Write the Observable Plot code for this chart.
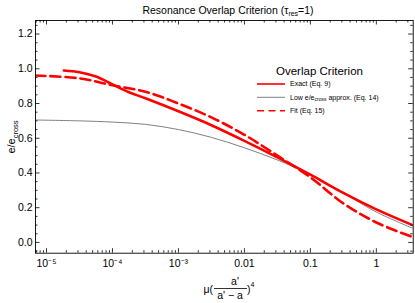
<!DOCTYPE html>
<html><head><meta charset="utf-8">
<script src="https://cdn.jsdelivr.net/npm/d3@7"></script>
<script src="https://cdn.jsdelivr.net/npm/@observablehq/plot@0.6"></script>
<style>
body{margin:0;background:#fff;}
#chart{position:relative;width:415px;height:303px;}
</style></head><body><div id="chart"></div>
<script>
// ---- data ----
const exactX = [1.83e-5, 3.16e-5, 5.62e-5, 1e-4, 1.78e-4, 3.16e-4, 1e-3, 3.16e-3, 0.01, 0.0316, 0.1, 0.316, 1.0, 3.63];
const exactY = [0.99, 0.98, 0.955, 0.91, 0.865, 0.83, 0.755, 0.675, 0.585, 0.49, 0.39, 0.285, 0.19, 0.098];

const lowX = [6.8e-6, 3.16e-5, 1e-4, 3.16e-4, 1e-3, 3.16e-3, 0.01, 0.0316, 0.1, 0.316, 1.0, 3.63];
const lowY = [0.705, 0.70, 0.693, 0.68, 0.65, 0.605, 0.545, 0.475, 0.39, 0.285, 0.175, 0.08];

const fitX = [6.8e-6, 3.16e-5, 1e-4, 3.16e-4, 1e-3, 3.16e-3, 0.01, 0.0316, 0.1, 0.316, 1.0, 3.63];
const fitY = [0.961, 0.945, 0.905, 0.868, 0.80, 0.72, 0.62, 0.50, 0.375, 0.225, 0.115, 0.03];

const xTickValues = [1e-5, 1e-4, 1e-3, 1e-2, 1e-1, 1];
const xTickLabels = ["10\u207B\u2075", "10\u207B\u2074", "10\u207B\u00B3", "0.01", "0.1", "1"];
const yTickValues = [0, 0.2, 0.4, 0.6, 0.8, 1.0, 1.2];
const yTickLabels = ["0.0", "0.2", "0.4", "0.6", "0.8", "1.0", "1.2"];

const seriesNames = ["Exact (Eq. 9)", "Low e/e_cross approx. (Eq. 14)", "Fit (Eq. 15)"];

// ---- layout ----
const W = 415, H = 303, mL = 35, mR = 2.3, mT = 20, mB = 50.3;
const innerW = W - mL - mR, innerH = H - mT - mB;
const xDomain = [6.81e-6, 3.62], yDomain = [-0.062, 1.278];
const majorLen = 4.5, minorLen = 2.5;
const font = "'Liberation Sans', Arial, Helvetica, sans-serif";

// minor ticks derived from the domain
const xMinor = [];
for (let e = -6; e <= 0; e++) for (let m = 2; m <= 9; m++) {
  const v = m * Math.pow(10, e);
  if (v >= xDomain[0] && v <= xDomain[1]) xMinor.push(v);
}
const yMinor = d3.range(-0.05, 1.2751, 0.05).map(v => +v.toFixed(2)).filter(v => Math.abs(v * 5 - Math.round(v * 5)) > 1e-6);

const pts = (xs, ys) => xs.map((x, i) => ({x, y: ys[i]}));

const tickMarks = (vals, len) => [
  Plot.tickX(vals, {x: d => d, insetTop: innerH - len, stroke: "#000", strokeWidth: 0.8}),
  Plot.tickX(vals, {x: d => d, insetBottom: innerH - len, stroke: "#000", strokeWidth: 0.8})
];
const tickMarksY = (vals, len) => [
  Plot.tickY(vals, {y: d => d, insetRight: innerW - len, stroke: "#000", strokeWidth: 0.8}),
  Plot.tickY(vals, {y: d => d, insetLeft: innerW - len, stroke: "#000", strokeWidth: 0.8})
];

const chart = Plot.plot({
  width: W, height: H,
  marginLeft: mL, marginRight: mR, marginTop: mT, marginBottom: mB,
  style: {fontFamily: font, fontSize: "10.5px", background: "#fff"},
  x: {type: "log", domain: xDomain, axis: null},
  y: {domain: yDomain, axis: null},
  marks: [
    Plot.line(pts(lowX, lowY), {x: "x", y: "y", stroke: "#808080", strokeWidth: 1, curve: "catmull-rom", clip: true}),
    Plot.line(pts(fitX, fitY), {x: "x", y: "y", stroke: "#ff0000", strokeWidth: 2.6, strokeDasharray: "10,5", curve: "catmull-rom", clip: true}),
    Plot.line(pts(exactX, exactY), {x: "x", y: "y", stroke: "#ff0000", strokeWidth: 2.6, curve: "catmull-rom", clip: true}),
    ...tickMarks(xTickValues, majorLen),
    ...tickMarks(xMinor, minorLen),
    ...tickMarksY(yTickValues, majorLen),
    ...tickMarksY(yMinor, minorLen),
    Plot.frame({stroke: "#000", strokeWidth: 0.9}),
    Plot.text(xTickValues, {x: d => d, text: (d, i) => xTickLabels[i], frameAnchor: "bottom", lineAnchor: "top", dy: 6, fontSize: 10.5, fill: "#000"}),
    Plot.text(yTickValues, {y: d => d, text: (d, i) => yTickLabels[i], frameAnchor: "left", textAnchor: "end", dx: -3, fontSize: 10.5, fill: "#000"})
  ]
});
document.getElementById("chart").appendChild(chart);

// ---- annotations: title, axis labels, legend ----
const svg = d3.select(chart);
const g = svg.append("g").attr("font-family", font).attr("fill", "#000").attr("text-anchor", "start");

const title = g.append("text").attr("x", 228).attr("y", 13.5).attr("text-anchor", "middle").attr("font-size", 10.5);
title.append("tspan").text("Resonance Overlap Criterion (\u03C4");
title.append("tspan").attr("font-size", 7).attr("dy", 2).text("res");
title.append("tspan").attr("dy", -2).text("=1)");

// y label
const yl = g.append("text").attr("transform", "translate(15,137) rotate(-90)").attr("text-anchor", "middle").attr("font-size", 11);
yl.append("tspan").text("e/e");
yl.append("tspan").attr("font-size", 7.5).attr("dy", 2.5).text("cross");

// x label: μ( a' / (a'−a) )^4
g.append("text").attr("x", 213).attr("y", 293).attr("text-anchor", "end").attr("font-size", 10.5).text("\u03BC(");
g.append("text").attr("x", 235).attr("y", 285).attr("text-anchor", "middle").attr("font-size", 10.5).text("a'");
g.append("line").attr("x1", 214).attr("x2", 247).attr("y1", 288.5).attr("y2", 288.5).attr("stroke", "#000").attr("stroke-width", 0.8);
g.append("text").attr("x", 230).attr("y", 299).attr("text-anchor", "middle").attr("font-size", 10.5).text("a' \u2212 a");
g.append("text").attr("x", 247).attr("y", 293).attr("text-anchor", "start").attr("font-size", 10.5).text(")");
g.append("text").attr("x", 250.5).attr("y", 287).attr("text-anchor", "start").attr("font-size", 7).text("4");

// legend
g.append("text").attr("x", 319.5).attr("y", 75).attr("text-anchor", "middle").attr("font-size", 11.5).text("Overlap Criterion");
const legendStyles = [
  {stroke: "#ff0000", w: 1.6, dash: null},
  {stroke: "#808080", w: 1, dash: null},
  {stroke: "#ff0000", w: 1.6, dash: "7,4.5"}
];
const ly = [84, 97.3, 110.7];
seriesNames.forEach((name, i) => {
  const s = legendStyles[i];
  g.append("line").attr("x1", 257).attr("x2", 285).attr("y1", ly[i]).attr("y2", ly[i])
    .attr("stroke", s.stroke).attr("stroke-width", s.w).attr("stroke-dasharray", s.dash);
  const t = g.append("text").attr("x", 290).attr("y", ly[i] + 2.4).attr("text-anchor", "start").attr("font-size", 7);
  if (name.includes("_cross")) {
    const [a, b] = name.split("_cross");
    t.append("tspan").text(a);
    t.append("tspan").attr("font-size", 5).attr("dy", 1.5).text("cross");
    t.append("tspan").attr("dy", -1.5).text(b);
  } else t.text(name);
});
</script>
</body></html>
